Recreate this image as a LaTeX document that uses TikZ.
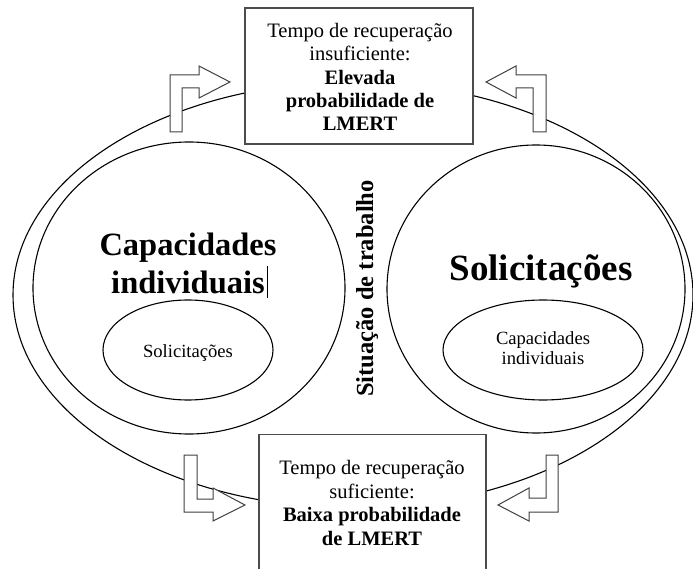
\documentclass[tikz,border=0pt]{standalone}
\usepackage{fontspec}
\setmainfont{Liberation Serif}
\begin{document}
\begin{tikzpicture}[x=1pt,y=-1pt,
  ell/.style={draw=black, line width=1.1pt},
  boxframe/.style={draw=black!70, line width=1.4pt, fill=white},
  blockarrow/.style={draw=black!75, line width=1pt, fill=white, line join=miter},
  boxtext/.style={align=center, font=\fontsize{20.5}{23.4}\selectfont, inner sep=0pt},
]
\useasboundingbox (0,0) rectangle (693,569);
\clip (0,0) rectangle (693,569);
\fill[white] (0,0) rectangle (693,569);

% outer and inner ellipses
\draw[ell] (353,295) ellipse [x radius=340pt, y radius=213pt];
\draw[ell] (189,288) ellipse [x radius=156pt, y radius=146pt];
\draw[ell] (536,289) ellipse [x radius=149pt, y radius=144pt];
\draw[ell] (188,350) ellipse [x radius=85pt, y radius=50pt];
\draw[ell] (543,350) ellipse [x radius=100pt, y radius=50pt];

% boxes
\node[boxframe, minimum width=228pt, minimum height=136pt, inner sep=0pt] (topbox) at (359,76) {};
\node[boxtext] (toptext) at (360,77) {Tempo de recuperação\\insuficiente:\\\textbf{Elevada}\\\textbf{probabilidade de}\\\textbf{LMERT}};
\node[boxframe, minimum width=227pt, minimum height=160pt, inner sep=0pt, anchor=north] (botbox) at (372.5,434) {};
\node[boxtext] (bottext) at (372,503) {Tempo de recuperação\\suficiente:\\\textbf{Baixa probabilidade}\\\textbf{de LMERT}};

% block arrows
\draw[blockarrow] (170,132) -- (170,75) -- (199,75) -- (199,66) -- (230,82) -- (199,98) -- (199,88) -- (182,88) -- (182,132) -- cycle;
\draw[blockarrow] (546,132) -- (546,75) -- (516,75) -- (516,66) -- (486,82) -- (516,98) -- (516,88) -- (533,88) -- (533,132) -- cycle;
\draw[blockarrow] (184,455) -- (184,512) -- (213,512) -- (213,521) -- (245,505) -- (213,488) -- (213,499) -- (197,499) -- (197,455) -- cycle;
\draw[blockarrow] (558,455) -- (558,512) -- (529,512) -- (529,521) -- (498,505) -- (529,488) -- (529,498) -- (546,498) -- (546,455) -- cycle;

% texts
\node[align=center, font=\bfseries\fontsize{32.5}{38}\selectfont, inner sep=0pt] (capL) at (188,263) {Capacidades\\individuais};
\draw[line width=0.7pt] (267,266) -- (267,298);
\node[anchor=base, font=\fontsize{18.6}{20}\selectfont, inner sep=0pt] (solL) at (188,357) {Solicitações};
\node[anchor=base, font=\bfseries\fontsize{37}{42}\selectfont, inner sep=0pt] (solR) at (541,280) {Solicitações};
\node[align=center, font=\fontsize{18.6}{20}\selectfont, inner sep=0pt] (capR) at (543,348.5) {Capacidades\\individuais};
\node[anchor=base, rotate=90, font=\bfseries\fontsize{24.5}{28}\selectfont, inner sep=0pt] (sit) at (373,288.5) {Situação de trabalho};
\end{tikzpicture}
\end{document}
